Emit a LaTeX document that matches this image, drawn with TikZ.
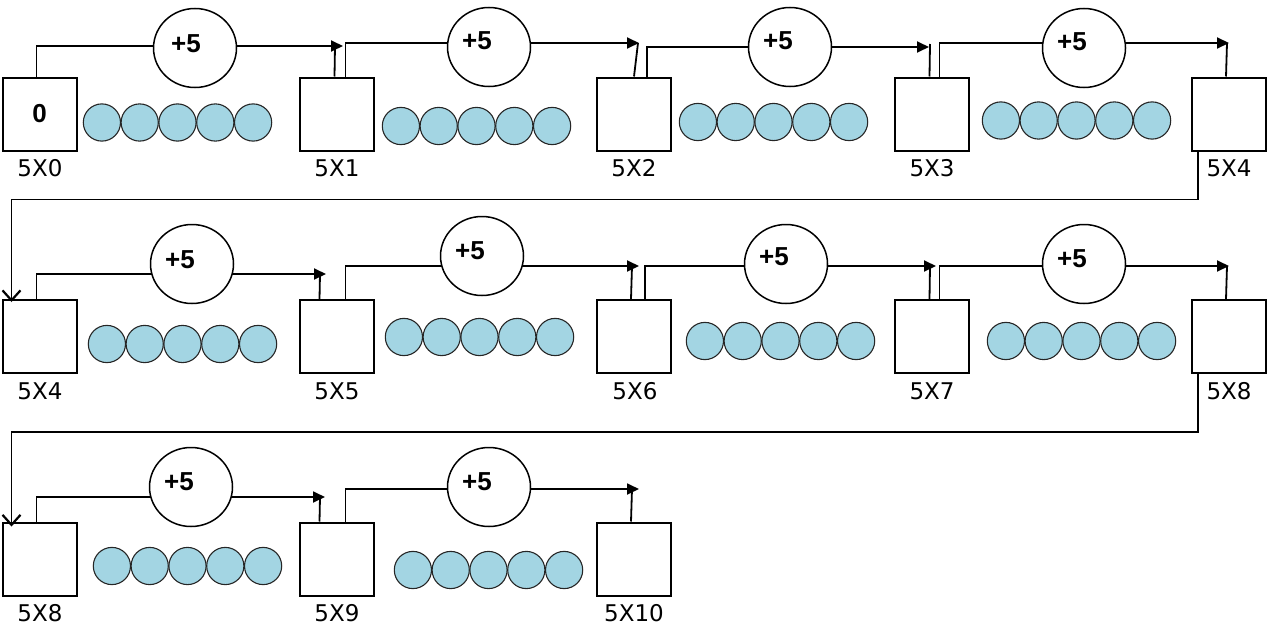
\documentclass[tikz,border=0pt]{standalone}
\usepackage{fontspec}
\setmainfont{DejaVu Sans}
\newfontfamily\plusfont{Liberation Sans}[BoldFont={Liberation Sans Bold}]
\usetikzlibrary{arrows.meta,shapes.geometric,calc}
\definecolor{beadblue}{RGB}{163,213,227}
\begin{document}
\begin{tikzpicture}[x=1pt,y=-1pt,
  numbox/.style={draw, line width=2pt, minimum width=74pt, minimum height=73pt, inner sep=0pt, fill=white},
  addcirc/.style={draw, ellipse, line width=1.5pt, minimum width=83pt, minimum height=79pt, inner sep=0pt, fill=white},
  lbl/.style={inner sep=0pt, font=\fontsize{23}{27}\selectfont},
  plus/.style={inner sep=0pt, font=\plusfont\bfseries\fontsize{26}{30}\selectfont},
  conn/.style={line width=1.8pt},
  arr/.style={conn, -{Triangle[length=12pt,width=11pt]}},
  ret/.style={line width=1.6pt, -{Straight Barb[length=10pt,width=18pt,line width=2.2pt]}},
  beadst/.style={draw=black!85, line width=1.1pt, fill=beadblue}
]
\useasboundingbox (0,0) rectangle (1268,626);

% tips of the arrows
\coordinate (t1) at (343,46);
\coordinate (t2) at (639,43);
\coordinate (t3) at (929,47);
\coordinate (t4) at (1229,43);
\coordinate (t5) at (326,274);
\coordinate (t6) at (639,266);
\coordinate (t7) at (936,266);
\coordinate (t8) at (1229,266);
\coordinate (t9) at (325,497);
\coordinate (t10) at (639,489);

% boxes
\node[numbox] (b0) at (39.5,114) {};
\node[numbox] (b1) at (336.5,114) {};
\node[numbox] (b2) at (634,114) {};
\node[numbox] (b3) at (931.5,114) {};
\node[numbox] (b4) at (1229,114) {};
\node[numbox] (b5) at (39.5,336.5) {};
\node[numbox] (b6) at (336.5,336.5) {};
\node[numbox] (b7) at (634,336.5) {};
\node[numbox] (b8) at (931.5,336.5) {};
\node[numbox] (b9) at (1229,336.5) {};
\node[numbox] (b10) at (39.5,559) {};
\node[numbox] (b11) at (336.5,559) {};
\node[numbox] (b12) at (634,559) {};

\node[plus] (zero) at (39.5,114) {0};

% labels
\node[lbl] (l0) at (40,168) {5X0};
\node[lbl] (l1) at (337,168) {5X1};
\node[lbl] (l2) at (634,168) {5X2};
\node[lbl] (l3) at (932,168) {5X3};
\node[lbl] (l4) at (1229,168) {5X4};
\node[lbl] (l5) at (40,391) {5X4};
\node[lbl] (l6) at (337,391) {5X5};
\node[lbl] (l7) at (635,391) {5X6};
\node[lbl] (l8) at (932,391) {5X7};
\node[lbl] (l9) at (1229,391) {5X8};
\node[lbl] (l10) at (40,613) {5X8};
\node[lbl] (l11) at (337,613) {5X9};
\node[lbl] (l12) at (634,613) {5X10};

% outgoing connectors
\draw[arr] ($(b0.north west)+(35,0)$) |- (t1);
\draw[arr] ($(b1.north west)+(47,0)$) |- (t2);
\draw[arr] ($(b2.north west)+(51,0)$) |- (t3);
\draw[arr] ($(b3.north west)+(46,0)$) |- (t4);
\draw[arr] ($(b5.north west)+(35,0)$) |- (t5);
\draw[arr] ($(b6.north west)+(47,0)$) |- (t6);
\draw[arr] ($(b7.north west)+(49,0)$) |- (t7);
\draw[arr] ($(b8.north west)+(46,0)$) |- (t8);
\draw[arr] ($(b10.north west)+(35,0)$) |- (t9);
\draw[arr] ($(b11.north west)+(47,0)$) |- (t10);

% incoming verticals
\draw[conn] ($(b1.north west)+(36,0)$) -- (335,46);
\draw[conn] ($(b2.north west)+(38,0)$) -- (638,43);
\draw[conn] ($(b3.north west)+(36,0)$) -- (930,44);
\draw[conn] ($(b4.north west)+(35,0)$) -- (1227,43);
\draw[conn] ($(b6.north west)+(21,0)$) -- (320,274);
\draw[conn] ($(b7.north west)+(35,0)$) -- (632,266);
\draw[conn] ($(b8.north west)+(36,0)$) -- (930,266);
\draw[conn] ($(b9.north west)+(35,0)$) -- (1227,266);
\draw[conn] ($(b11.north west)+(21,0)$) -- (320,497);
\draw[conn] ($(b12.north west)+(35,0)$) -- (632,489);

% return lines
\draw[ret] ($(b4.south west)+(7,0)$) -- ++(0,48) -| ($(b5.north west)+(10,3)$);
\draw[ret] ($(b9.south west)+(7,0)$) -- ++(0,58) -| ($(b10.north west)+(10,5)$);

% +5 circles
\node[addcirc] (c0) at (195,48) {};
\node[addcirc] (c1) at (489,47) {};
\node[addcirc] (c2) at (790,47) {};
\node[addcirc] (c3) at (1084,48) {};
\node[addcirc] (c4) at (192,264) {};
\node[addcirc] (c5) at (482,256) {};
\node[addcirc] (c6) at (786,264) {};
\node[addcirc] (c7) at (1084,264) {};
\node[addcirc] (c8) at (191,487) {};
\node[addcirc] (c9) at (489,487) {};

\node[plus] (p0) at (186,43.5) {+5};
\node[plus] (p1) at (477,41) {+5};
\node[plus] (p2) at (778,41) {+5};
\node[plus] (p3) at (1072,42) {+5};
\node[plus] (p4) at (180,260) {+5};
\node[plus] (p5) at (470,251) {+5};
\node[plus] (p6) at (774,257) {+5};
\node[plus] (p7) at (1072,259) {+5};
\node[plus] (p8) at (179,482) {+5};
\node[plus] (p9) at (477,482) {+5};

% beads
\foreach \lx/\cy in {83/122.5, 382/126, 679/122, 982/120.5,
                     88/344, 385/337, 686/341, 987/341,
                     93/566, 394/570} {
  \foreach \i in {0,...,4} {
    \draw[beadst] ({\lx+18.9+37.8*\i},\cy) circle[radius=18.6];
  }
}
\end{tikzpicture}
\end{document}
